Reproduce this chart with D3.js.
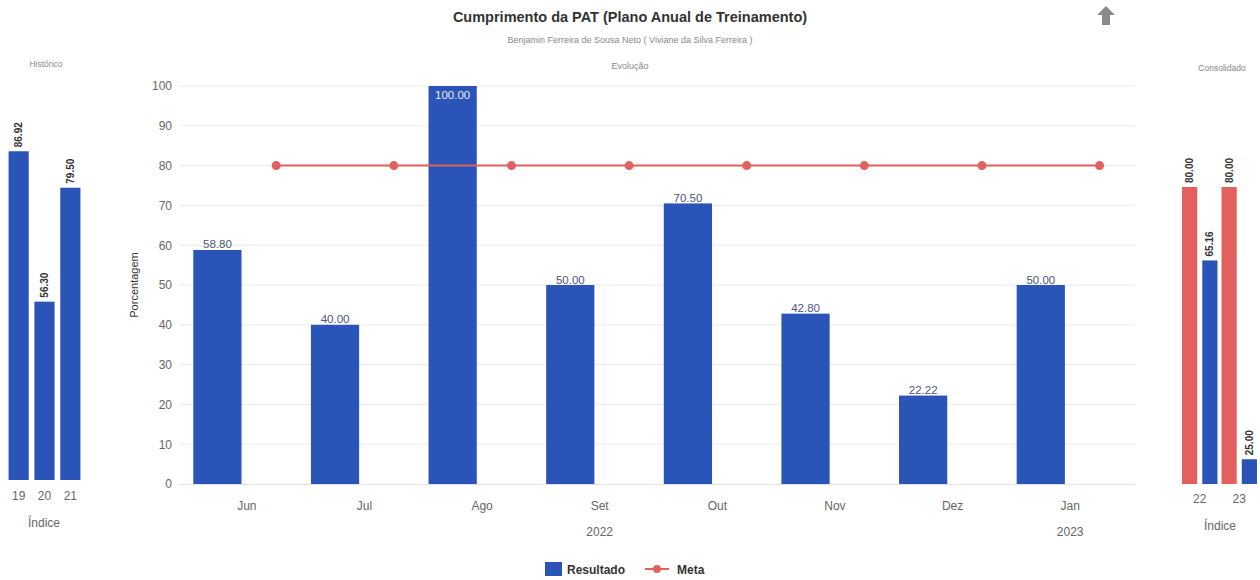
<!DOCTYPE html>
<html>
<head>
<meta charset="utf-8">
<script src="https://cdn.jsdelivr.net/npm/d3@7/dist/d3.min.js"></script>
<style>
  html, body { margin: 0; padding: 0; background: #fff; }
  svg { display: block; font-family: "Liberation Sans", Arial, sans-serif; }
</style>
</head>
<body>
<svg id="chart" width="1260" height="580"></svg>
<script>
// ---- data ----
const months = ["Jun", "Jul", "Ago", "Set", "Out", "Nov", "Dez", "Jan"];
const resultado = [58.80, 40.00, 100.00, 50.00, 70.50, 42.80, 22.22, 50.00];
const meta = [80, 80, 80, 80, 80, 80, 80, 80];
const yearGroups = [
  { label: "2022", from: "Jun", to: "Dez" },
  { label: "2023", from: "Jan", to: "Jan" }
];
const yTicks = [0, 10, 20, 30, 40, 50, 60, 70, 80, 90, 100];

const histIndices = ["19", "20", "21"];
const histValues = [86.92, 56.30, 79.50];

const consIndices = ["22", "23"];
const consSeries = ["Meta", "Resultado"];
const consMeta = [80.00, 80.00];
const consResultado = [65.16, 25.00];

// ---- styling ----
const BLUE = "#2a54b8";
const RED = "#e2605d";
const fmt = d3.format(".2f");
const svg = d3.select("#chart");

// ---- titles ----
svg.append("text").attr("x", 630).attr("y", 22).attr("text-anchor", "middle")
  .attr("font-size", 14.5).attr("font-weight", "bold").attr("fill", "#333")
  .text("Cumprimento da PAT (Plano Anual de Treinamento)");
svg.append("text").attr("x", 630).attr("y", 43).attr("text-anchor", "middle")
  .attr("font-size", 9).attr("fill", "#888")
  .text("Benjamin Ferreira de Sousa Neto ( Viviane da Silva Ferreira )");

// up arrow button
svg.append("path")
  .attr("d", "M1106,6 L1115,15 L1110,15 L1110,25 L1102,25 L1102,15 L1097,15 Z")
  .attr("fill", "#8a8a8a");

// ---- main chart (Evolução) ----
const plotL = 188, plotR = 1129, plotTop = 86, plotBottom = 484;
svg.append("text").attr("x", 630).attr("y", 69).attr("text-anchor", "middle")
  .attr("font-size", 9).attr("fill", "#888").text("Evolução");

const x0 = d3.scaleBand().domain(months).range([plotL, plotR]).padding(0);
const x1 = d3.scaleBand().domain(["Resultado", "Meta"]).range([0, x0.bandwidth()])
  .paddingInner(0.18).paddingOuter(0.09);
const y = d3.scaleLinear().domain([0, 100]).range([plotBottom, plotTop]);

const main = svg.append("g");

// grid lines
main.append("g").selectAll("line").data(yTicks.filter(d => d > 0)).join("line")
  .attr("x1", 180).attr("x2", 1135)
  .attr("y1", d => y(d)).attr("y2", d => y(d))
  .attr("stroke", "#ebebeb").attr("stroke-width", 1);

// y axis
const yAxis = main.append("g").attr("transform", `translate(${plotL - 10},0)`)
  .call(d3.axisLeft(y).tickValues(yTicks).tickSize(0).tickPadding(6));
yAxis.select(".domain").remove();
yAxis.selectAll("text").attr("font-size", 12).attr("fill", "#666")
  .attr("font-family", "Liberation Sans, Arial, sans-serif");

main.append("text")
  .attr("transform", `translate(138,${(plotTop + plotBottom) / 2}) rotate(-90)`)
  .attr("text-anchor", "middle").attr("font-size", 11).attr("fill", "#333")
  .text("Porcentagem");

// x axis
main.append("line").attr("x1", 180).attr("x2", 1135)
  .attr("y1", plotBottom + 0.5).attr("y2", plotBottom + 0.5)
  .attr("stroke", "#e2e2e2");
const xAxis = main.append("g").attr("transform", `translate(0,${plotBottom})`)
  .call(d3.axisBottom(x0).tickSize(0).tickPadding(17));
xAxis.select(".domain").remove();
xAxis.selectAll("text").attr("font-size", 12).attr("fill", "#666")
  .attr("font-family", "Liberation Sans, Arial, sans-serif");

// year group labels
main.append("g").selectAll("text").data(yearGroups).join("text")
  .attr("x", d => (x0(d.from) + x0(d.to) + x0.bandwidth()) / 2)
  .attr("y", 536).attr("text-anchor", "middle")
  .attr("font-size", 12).attr("fill", "#666")
  .text(d => d.label);

// bars
const barData = months.map((m, i) => ({ m, v: resultado[i] }));
main.append("g").selectAll("rect").data(barData).join("rect")
  .attr("x", d => x0(d.m) + x1("Resultado"))
  .attr("y", d => y(d.v))
  .attr("width", x1.bandwidth())
  .attr("height", d => y(0) - y(d.v))
  .attr("fill", BLUE);

// bar value labels
main.append("g").selectAll("text").data(barData).join("text")
  .attr("x", d => x0(d.m) + x1("Resultado") + x1.bandwidth() / 2)
  .attr("y", d => (y(d.v) - 12 < plotTop) ? y(d.v) + 13 : y(d.v) - 1.5)
  .attr("text-anchor", "middle").attr("font-size", 11.5)
  .attr("fill", d => (y(d.v) - 12 < plotTop) ? "#e8ecf6" : "#4a5682")
  .text(d => fmt(d.v));

// meta line
const metaData = months.map((m, i) => ({ m, v: meta[i] }));
const metaX = d => x0(d.m) + x1("Meta") + x1.bandwidth() / 2;
main.append("path").datum(metaData)
  .attr("d", d3.line().x(metaX).y(d => y(d.v)))
  .attr("fill", "none").attr("stroke", RED).attr("stroke-width", 2);
main.append("g").selectAll("circle").data(metaData).join("circle")
  .attr("cx", metaX).attr("cy", d => y(d.v)).attr("r", 4.5)
  .attr("fill", RED);

// legend
const lg = svg.append("g");
lg.append("rect").attr("x", 545).attr("y", 562).attr("width", 17).attr("height", 14).attr("fill", BLUE);
lg.append("text").attr("x", 567).attr("y", 574).attr("font-size", 12).attr("font-weight", "bold")
  .attr("fill", "#333").text("Resultado");
lg.append("line").attr("x1", 645).attr("x2", 669).attr("y1", 569).attr("y2", 569)
  .attr("stroke", RED).attr("stroke-width", 2);
lg.append("circle").attr("cx", 657).attr("cy", 569).attr("r", 4).attr("fill", RED);
lg.append("text").attr("x", 677).attr("y", 574).attr("font-size", 12).attr("font-weight", "bold")
  .attr("fill", "#333").text("Meta");

// ---- side charts ----
function sideLabel(g, xc, yTop, v) {
  g.append("text")
    .attr("transform", `translate(${xc + 3.5},${yTop - 4}) rotate(-90)`)
    .attr("text-anchor", "start").attr("font-size", 10).attr("font-weight", "bold")
    .attr("fill", "#333").text(fmt(v));
}

// Histórico
const hist = svg.append("g");
hist.append("text").attr("x", 46).attr("y", 67).attr("text-anchor", "middle")
  .attr("font-size", 8.5).attr("fill", "#888").text("Histórico");
const hx = d3.scaleBand().domain(histIndices).range([6, 83]).paddingInner(0.22).paddingOuter(0.1);
const hy = d3.scaleLinear().domain([20, 100]).range([480, 87]);
histIndices.forEach((k, i) => {
  hist.append("rect").attr("x", hx(k)).attr("y", hy(histValues[i]))
    .attr("width", hx.bandwidth()).attr("height", hy(20) - hy(histValues[i]))
    .attr("fill", BLUE);
  sideLabel(hist, hx(k) + hx.bandwidth() / 2, hy(histValues[i]), histValues[i]);
});
const hAxis = hist.append("g").attr("transform", "translate(0,480)")
  .call(d3.axisBottom(hx).tickSize(0).tickPadding(11));
hAxis.select(".domain").remove();
hAxis.selectAll("text").attr("font-size", 12).attr("fill", "#666")
  .attr("font-family", "Liberation Sans, Arial, sans-serif");
hist.append("text").attr("x", 44).attr("y", 527).attr("text-anchor", "middle")
  .attr("font-size", 12).attr("fill", "#666").text("Índice");

// Consolidado
const cons = svg.append("g");
cons.append("text").attr("x", 1222).attr("y", 71).attr("text-anchor", "middle")
  .attr("font-size", 8.5).attr("fill", "#888").text("Consolidado");
const cx0 = d3.scaleBand().domain(consIndices).range([1180, 1259]).padding(0);
const cx1 = d3.scaleBand().domain(consSeries).range([0, cx0.bandwidth()])
  .paddingInner(0.25).paddingOuter(0.1);
const cy = d3.scaleLinear().domain([20, 100]).range([484, 88]);
const consData = [];
consIndices.forEach((k, i) => {
  consData.push({ k, s: "Meta", v: consMeta[i], c: RED });
  consData.push({ k, s: "Resultado", v: consResultado[i], c: BLUE });
});
consData.forEach(d => {
  const bx = cx0(d.k) + cx1(d.s);
  cons.append("rect").attr("x", bx).attr("y", cy(d.v))
    .attr("width", cx1.bandwidth()).attr("height", cy(20) - cy(d.v))
    .attr("fill", d.c);
  sideLabel(cons, bx + cx1.bandwidth() / 2, cy(d.v), d.v);
});
const cAxis = cons.append("g").attr("transform", "translate(0,484)")
  .call(d3.axisBottom(cx0).tickSize(0).tickPadding(10));
cAxis.select(".domain").remove();
cAxis.selectAll("text").attr("font-size", 12).attr("fill", "#666")
  .attr("font-family", "Liberation Sans, Arial, sans-serif");
cons.append("text").attr("x", 1220).attr("y", 530).attr("text-anchor", "middle")
  .attr("font-size", 12).attr("fill", "#666").text("Índice");
</script>
</body>
</html>
